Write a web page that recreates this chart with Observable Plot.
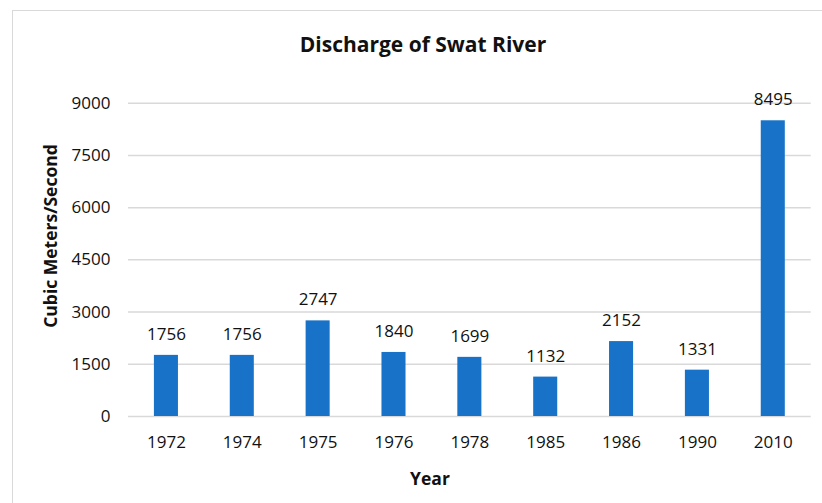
<!DOCTYPE html>
<html>
<head>
<meta charset="utf-8">
<script src="https://cdn.jsdelivr.net/npm/d3@7"></script>
<script src="https://cdn.jsdelivr.net/npm/@observablehq/plot@0.6"></script>
<style>
  html, body { margin: 0; padding: 0; background: #fff; }
  body { width: 822px; height: 503px; position: relative; overflow: hidden; font-family: "Open Sans", sans-serif; color: #111; }
  #frame { position: absolute; left: 12px; top: 10px; width: 900px; height: 600px; border-top: 1.5px solid #d9d9d9; border-left: 1.5px solid #d9d9d9; box-sizing: border-box; }
  #title { position: absolute; left: 0; width: 846px; top: 30px; text-align: center; font-weight: 700; font-size: 21px; line-height: 28px; }
  #ylabel { position: absolute; left: 50px; top: 236px; transform: translate(-50%, -50%) rotate(-90deg); font-weight: 700; font-size: 17.5px; white-space: nowrap; line-height: 22px; }
  #xlabel { position: absolute; left: 430px; top: 478px; transform: translate(-50%, -50%); font-weight: 700; font-size: 17.5px; line-height: 22px; }
  #chart { position: absolute; left: 0; top: 60px; }
</style>
</head>
<body>
<div id="frame"></div>
<div id="title">Discharge of Swat River</div>
<div id="ylabel">Cubic Meters/Second</div>
<div id="xlabel">Year</div>
<div id="chart"></div>
<script>
const years = ["1972", "1974", "1975", "1976", "1978", "1985", "1986", "1990", "2010"];
const discharge = [1756, 1756, 2747, 1840, 1699, 1132, 2152, 1331, 8495];
const yTicks = [0, 1500, 3000, 4500, 6000, 7500, 9000];

const data = years.map((year, i) => ({year, value: discharge[i]}));

const plot = Plot.plot({
  width: 822,
  height: 443,
  marginTop: 42.7,
  marginBottom: 87,
  marginLeft: 128,
  marginRight: 11.3,
  style: { fontFamily: "Open Sans, sans-serif", fontSize: "17px", color: "#111", background: "transparent" },
  x: { domain: years, paddingInner: 0.683, paddingOuter: 0.3415, round: false, label: null, tickSize: 0, tickPadding: 19 },
  y: { domain: [0, 9000], ticks: yTicks, label: null, tickSize: 0, tickPadding: 18, tickFormat: d => String(d) },
  marks: [
    Plot.ruleY(yTicks, { stroke: "#d9d9d9", strokeWidth: 1.5 }),
    Plot.barY(data, { x: "year", y: "value", fill: "#1872c8" }),
    Plot.text(data, { x: "year", y: "value", text: d => String(d.value), dy: -21, fill: "#111", fontSize: 17 })
  ]
});
document.getElementById("chart").appendChild(plot);
</script>
</body>
</html>
